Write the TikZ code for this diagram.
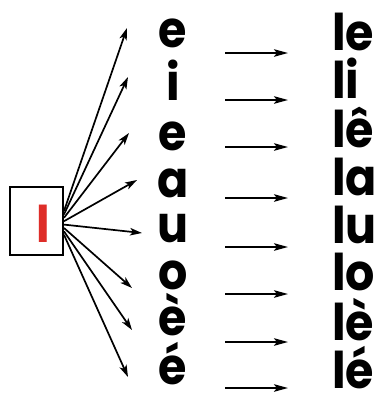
\documentclass[tikz,border=0pt]{standalone}
\usepackage{fontspec}
\setmainfont{Poppins}
\usepackage{tikz}
\usetikzlibrary{arrows.meta}
\definecolor{lred}{RGB}{222,45,40}
\newcommand\tallword[1]{\scalebox{1}[1.1]{#1}}

\begin{document}
\begin{tikzpicture}[
    x=1pt, y=-1pt,
    letter/.style={anchor=base, inner sep=0pt, font=\fontsize{46}{46}\selectfont\bfseries},
    fan/.style={-{Stealth[length=12pt, width=7.5pt, inset=3pt]}, line width=1.7pt},
    link/.style={-{Stealth[length=14pt, width=7.5pt, inset=3pt]}, line width=2pt},
]
\useasboundingbox (0,0) rectangle (390,405);

% Box with the red l
\node[draw, line width=2pt, minimum width=53pt, minimum height=68pt, inner sep=0pt] (lbox) at (36.5,221) {};
\node[letter, text=lred] (lred) at (43.5,242) {\tallword{l}};

% Vowels, arrows and syllables
\foreach \v/\s/\vb/\sb/\ma/\tx/\ty [count=\i] in {
    e/le/47/50/53/127/28,
    i/li/100/98/100/128/77,
    e/lê/150/147/147/129/133,
    a/la/197/195/198/137/180,
    u/lu/242/243/247/142/233,
    o/lo/289/290/294/132/288,
    è/lè/335/340/342/132/330,
    é/lé/384/388/388/128/377} {
  \node[letter] (v\i) at (173,\vb) {\tallword{\v}};
  \node[letter, anchor=base west] (s\i) at (332,\sb) {\tallword{\s}};
  \coordinate (t\i) at (\tx,\ty);
  \coordinate (a\i) at (225,\ma);
  \coordinate (b\i) at (288,\ma);
  \draw[fan] ([yshift={10pt-3.4pt*(\i-1)}]lbox.east) -- (t\i);
  \draw[link] (a\i) -- (b\i);
}

\end{tikzpicture}
\end{document}
